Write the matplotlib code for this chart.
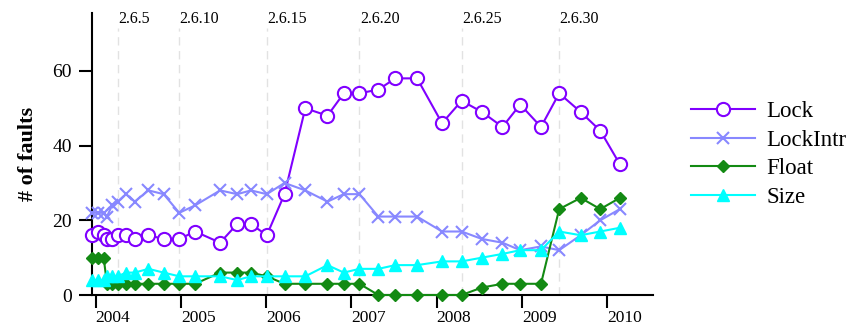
import pandas as pd
import matplotlib
matplotlib.use("Agg")
import matplotlib.pyplot as plt
import matplotlib.dates as mdates

plt.rcParams['font.family'] = ['Liberation Serif', 'DejaVu Serif']

# kernel releases 2.6.0 .. 2.6.33
versions = ["2.6.%d" % i for i in range(34)]
release_dates = ["2003-12-17", "2004-01-09", "2004-02-04", "2004-02-18", "2004-03-11",
                 "2004-04-04", "2004-05-10", "2004-06-16", "2004-08-14", "2004-10-18",
                 "2004-12-24", "2005-03-02", "2005-06-17", "2005-08-29", "2005-10-27",
                 "2006-01-03", "2006-03-20", "2006-06-17", "2006-09-20", "2006-11-29",
                 "2007-02-04", "2007-04-26", "2007-07-08", "2007-10-09", "2008-01-24",
                 "2008-04-17", "2008-07-13", "2008-10-09", "2008-12-24", "2009-03-23",
                 "2009-06-09", "2009-09-09", "2009-12-02", "2010-02-24"]

lock = [16, 17, 16, 15, 15, 16, 16, 15, 16, 15,
        15, 17, 14, 19, 19, 16, 27, 50, 48, 54,
        54, 55, 58, 58, 46, 52, 49, 45, 51, 45,
        54, 49, 44, 35]
lock_intr = [22, 22, 22, 21, 24, 25, 27, 25, 28, 27,
             22, 24, 28, 27, 28, 27, 30, 28, 25, 27,
             27, 21, 21, 21, 17, 17, 15, 14, 12, 13,
             12, 16, 20, 23]
float_ = [10, 10, 10, 3, 3, 3, 3, 3, 3, 3,
          3, 3, 6, 6, 6, 5, 3, 3, 3, 3,
          3, 0, 0, 0, 0, 0, 2, 3, 3, 3,
          23, 26, 23, 26]
size = [4, 4, 4, 5, 5, 5, 6, 6, 7, 6,
        5, 5, 5, 4, 5, 5, 5, 5, 8, 6,
        7, 7, 8, 8, 9, 9, 10, 11, 12, 12,
        17, 16, 17, 18]

marked = ["2.6.5", "2.6.10", "2.6.15", "2.6.20", "2.6.25", "2.6.30"]

dates = pd.to_datetime(release_dates)

fig = plt.figure(figsize=(8.59, 3.27), dpi=100)
ax = fig.add_axes([92 / 859, 32 / 327, (653 - 92) / 859, (295 - 13) / 327])

# version markers
for v in marked:
    d = dates[versions.index(v)]
    ax.plot([d, d], [0, 71.5], color="#e2e2e2", lw=1, ls=(0, (6, 4)), zorder=1)
    ax.text(d + pd.Timedelta(days=2), 0.98, v, transform=ax.get_xaxis_transform(),
            fontsize=11.5, ha="left", va="center")

ax.plot(dates, lock, color="#8000ff", lw=1.5, marker="o", ms=9.5, mfc="white",
        mec="#8000ff", mew=1.5, label="Lock", clip_on=False, zorder=3)
ax.plot(dates, lock_intr, color="#8888ff", lw=1.5, marker="x", ms=9, mew=1.5,
        label="LockIntr", clip_on=False, zorder=3)
ax.plot(dates, float_, color="#138a13", lw=1.5, marker="D", ms=6.5,
        label="Float", clip_on=False, zorder=4)
ax.plot(dates, size, color="#00ffff", lw=1.5, marker="^", ms=8.5,
        label="Size", clip_on=False, zorder=4)

ax.set_xlim(pd.Timestamp("2003-12-16"), pd.Timestamp("2010-07-16"))
ax.set_ylim(0, 75.5)
ax.set_yticks([0, 20, 40, 60])
ax.xaxis.set_major_locator(mdates.YearLocator())
ax.xaxis.set_major_formatter(mdates.DateFormatter("%Y"))

for s in ["top", "right"]:
    ax.spines[s].set_visible(False)
for s in ["left", "bottom"]:
    ax.spines[s].set_linewidth(1.5)
ax.tick_params(axis="both", direction="out", length=9.5, width=1.5)
ax.tick_params(axis="y", pad=5, labelsize=14)
ax.tick_params(axis="x", pad=1, labelsize=12.5)
for lab in ax.get_xticklabels():
    lab.set_ha("left")

ax.set_ylabel("# of faults", fontsize=16, fontweight="bold", labelpad=10)

fig.legend(loc="center left", bbox_to_anchor=(691 / 859, 1 - 154.5 / 327),
           frameon=False, fontsize=16.5, handlelength=2.8, handletextpad=0.5,
           labelspacing=0.32, borderpad=0, borderaxespad=0)

fig.savefig("out.png", dpi=100)
